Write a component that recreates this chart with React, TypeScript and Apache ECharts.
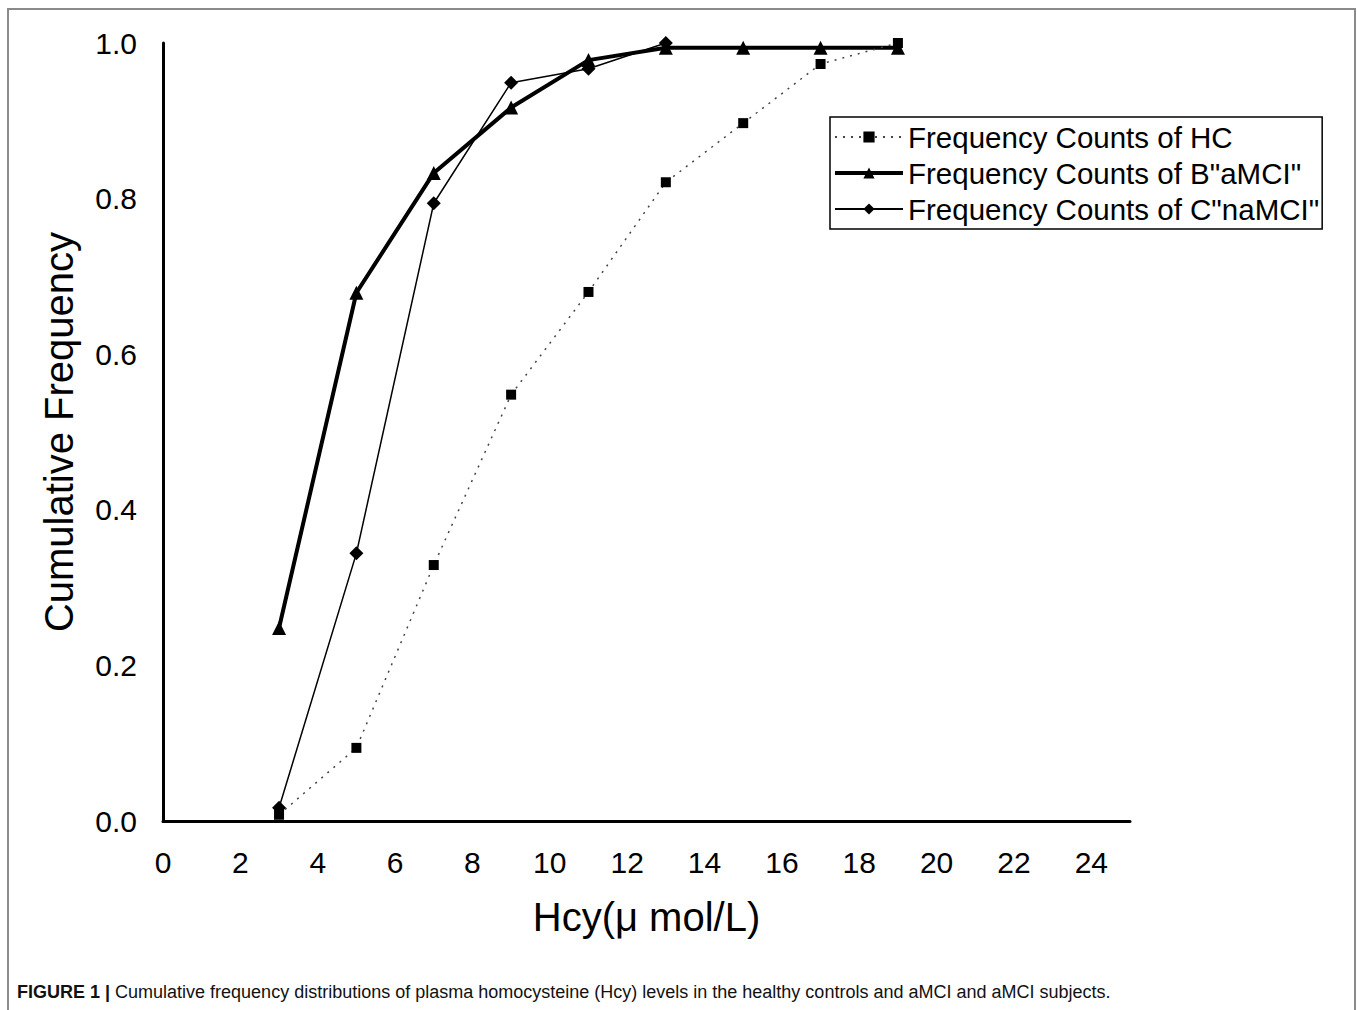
import React, { useEffect, useRef } from "react";
import * as echarts from "echarts";

const hcyLevels = [3, 5, 7, 9, 11, 13, 15, 17, 19];
const hcValues = [0.008, 0.094, 0.329, 0.548, 0.68, 0.821, 0.897, 0.973, 1.0];
const aMCIValues = [0.248, 0.679, 0.833, 0.917, 0.978, 0.994, 0.994, 0.994, 0.994];
const naMCILevels = [3, 5, 7, 9, 11, 13];
const naMCIValues = [0.017, 0.344, 0.794, 0.949, 0.967, 1.0];

const seriesNames = [
  "Frequency Counts of HC",
  'Frequency Counts of B"aMCI"',
  'Frequency Counts of C"naMCI"',
];
const xAxisTitle = "Hcy(\u03bc mol/L)";
const yAxisTitle = "Cumulative Frequency";
const captionBold = "FIGURE 1 | ";
const captionText =
  "Cumulative frequency distributions of plasma homocysteine (Hcy) levels in the healthy controls and aMCI and aMCI subjects.";

const FONT = "Liberation Sans, Arial, sans-serif";

export default function App() {
  const ref = useRef<HTMLDivElement>(null);
  useEffect(() => {
    if (!ref.current) return;
    const chart = echarts.init(ref.current, undefined, { renderer: "svg" });
    const pair = (xs: number[], ys: number[]) => xs.map((x, i) => [x, ys[i]]);
    chart.setOption({
      animation: false,
      backgroundColor: "#ffffff",
      textStyle: { fontFamily: FONT, color: "#000" },
      grid: { left: 163, top: 43, right: 227, bottom: 189, containLabel: false },
      xAxis: {
        type: "value",
        min: 0,
        max: 25,
        interval: 2,
        name: xAxisTitle,
        nameLocation: "middle",
        nameGap: 76,
        nameTextStyle: { fontSize: 40, fontFamily: FONT, color: "#000" },
        axisLine: { show: true, lineStyle: { color: "#000", width: 3 } },
        axisTick: { show: false },
        splitLine: { show: false },
        axisLabel: {
          fontSize: 30,
          fontFamily: FONT,
          color: "#000",
          margin: 26,
          showMaxLabel: false,
          formatter: (v: number) => (v % 2 === 0 ? String(v) : ""),
        },
      },
      yAxis: {
        type: "value",
        min: 0,
        max: 1,
        interval: 0.2,
        name: yAxisTitle,
        nameLocation: "middle",
        nameGap: 84,
        nameTextStyle: { fontSize: 40, fontFamily: FONT, color: "#000" },
        axisLine: { show: true, lineStyle: { color: "#000", width: 3 } },
        axisTick: { show: false },
        splitLine: { show: false },
        axisLabel: {
          fontSize: 30,
          fontFamily: FONT,
          color: "#000",
          margin: 26,
          formatter: (v: number) => v.toFixed(1),
        },
      },
      legend: {
        orient: "vertical",
        left: 830,
        top: 117,
        padding: [5, 3, 5, 3],
        itemWidth: 68,
        itemHeight: 14,
        itemGap: 6,
        borderColor: "#000",
        borderWidth: 1.5,
        backgroundColor: "#fff",
        textStyle: { fontSize: 29.5, fontFamily: FONT, color: "#000" },
        data: [
          { name: seriesNames[0] },
          { name: seriesNames[1], lineStyle: { width: 4, color: "#000" } },
          { name: seriesNames[2] },
        ],
      },
      series: [
        {
          name: seriesNames[0],
          type: "line",
          data: pair(hcyLevels, hcValues),
          symbol: "rect",
          symbolSize: 10,
          itemStyle: { color: "#000" },
          lineStyle: { color: "#444", width: 1.5, type: [2, 6] },
          z: 3,
        },
        {
          name: seriesNames[1],
          type: "line",
          data: pair(hcyLevels, aMCIValues),
          symbol: "triangle",
          symbolSize: 14,
          itemStyle: { color: "#000" },
          lineStyle: { color: "#000", width: 4 },
          z: 2,
        },
        {
          name: seriesNames[2],
          type: "line",
          data: pair(naMCILevels, naMCIValues),
          symbol: "diamond",
          symbolSize: 14,
          itemStyle: { color: "#000" },
          lineStyle: { color: "#000", width: 1.5 },
          z: 4,
        },
      ],
      graphic: [
        {
          type: "rect",
          shape: { x: 8, y: 9, width: 1347, height: 1010 },
          style: { fill: "none", stroke: "#8a8a8a", lineWidth: 2 },
          silent: true,
          z: -1,
        },
        {
          type: "text",
          left: 17,
          top: 983,
          style: {
            text: "{b|" + captionBold + "}{r|" + captionText + "}",
            rich: {
              b: { fontSize: 18, fontWeight: "bold", fontFamily: "Liberation Sans Narrow, " + FONT, fill: "#111" },
              r: { fontSize: 18, fontFamily: "Liberation Sans Narrow, " + FONT, fill: "#111" },
            },
          },
        },
      ],
    });
    return () => chart.dispose();
  }, []);
  return (
    <div
      ref={ref}
      style={{ position: "absolute", left: 0, top: 0, width: 1357, height: 1010 }}
    />
  );
}
